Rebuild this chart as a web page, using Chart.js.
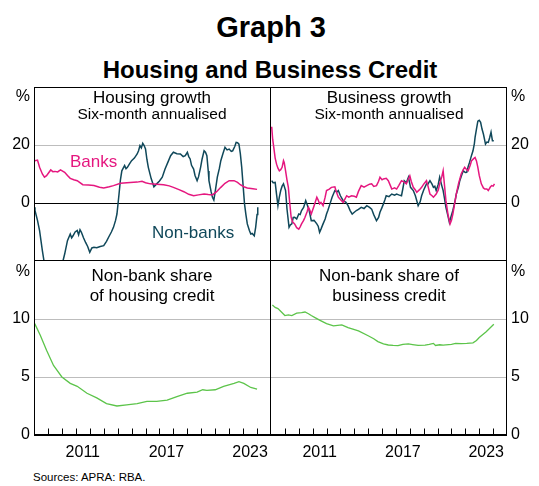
<!DOCTYPE html>
<html>
<head>
<meta charset="utf-8">
<script src="https://cdn.jsdelivr.net/npm/chart.js@4.4.1/dist/chart.umd.min.js"></script>
<style>
    body { margin: 0; background: #fff; }
    #wrap { position: relative; width: 539px; height: 486px; overflow: hidden; font-family: "Liberation Sans", Arial, sans-serif; color: #000; }
    #wrap canvas { position: absolute; }
    .txt { position: absolute; line-height: 1; white-space: nowrap; }
    .c { transform: translateX(-50%); }
    .r { transform: translateX(-100%); }
</style>
</head>
<body>
<div id="wrap">
    <div class="txt c" style="left:271px;top:13px;font-size:29px;font-weight:bold;">Graph 3</div>
    <div class="txt c" style="left:270px;top:58px;font-size:24px;font-weight:bold;">Housing and Business Credit</div>

    <canvas id="housingGrowth" width="271" height="174" style="left:0;top:87px;"></canvas>
    <canvas id="businessGrowth" width="268" height="174" style="left:271px;top:87px;"></canvas>
    <canvas id="housingShare" width="271" height="204" style="left:0;top:261px;"></canvas>
    <canvas id="businessShare" width="268" height="204" style="left:271px;top:261px;"></canvas>

    <div class="txt c" style="left:152px;top:89px;font-size:17px;">Housing growth</div>
    <div class="txt c" style="left:152px;top:106px;font-size:15.5px;">Six-month annualised</div>
    <div class="txt c" style="left:389px;top:89px;font-size:17px;">Business growth</div>
    <div class="txt c" style="left:389px;top:106px;font-size:15.5px;">Six-month annualised</div>
    <div class="txt c" style="left:152px;top:267px;font-size:17px;">Non-bank share</div>
    <div class="txt c" style="left:152px;top:287px;font-size:17px;">of housing credit</div>
    <div class="txt c" style="left:389px;top:267px;font-size:17px;">Non-bank share of</div>
    <div class="txt c" style="left:389px;top:287px;font-size:17px;">business credit</div>

    <div class="txt" style="left:70px;top:153px;font-size:17px;color:#e5177f;">Banks</div>
    <div class="txt" style="left:152px;top:224px;font-size:17px;color:#10485a;">Non-banks</div>

    <div class="txt r" style="left:30px;top:88px;font-size:16px;">%</div>
    <div class="txt r" style="left:30px;top:263px;font-size:16px;">%</div>
    <div class="txt" style="left:511px;top:88px;font-size:16px;">%</div>
    <div class="txt" style="left:511px;top:263px;font-size:16px;">%</div>

    <div class="txt" style="left:33px;top:472px;font-size:11.5px;">Sources: APRA: RBA.</div>
</div>

<script>
// Six-month annualised growth, % (year, value)
const housingBanks = [
    [2008.07, 14.6], [2008.25, 14.8], [2008.4, 12.3], [2008.6, 10.0], [2008.75, 8.9], [2008.9, 9.4],
    [2009.2, 11.4], [2009.35, 10.8], [2009.5, 10.9], [2009.7, 10.7], [2009.9, 11.4], [2010.2, 10.6],
    [2010.4, 9.5], [2010.6, 8.5], [2010.85, 8.0], [2011.1, 7.7], [2011.5, 6.3], [2011.9, 6.2],
    [2012.3, 6.0], [2012.7, 5.4], [2013.0, 5.2], [2013.4, 5.6], [2013.7, 6.0], [2014.2, 6.8],
    [2014.9, 7.1], [2015.4, 7.2], [2015.75, 7.5], [2016.0, 7.0], [2016.35, 6.6], [2016.8, 6.5],
    [2017.3, 6.3], [2017.7, 5.9], [2018.0, 5.4], [2018.4, 4.6], [2018.75, 3.9], [2019.1, 3.0],
    [2019.45, 2.5], [2019.8, 2.8], [2020.2, 3.1], [2020.5, 2.9], [2020.8, 2.8], [2021.1, 3.9],
    [2021.4, 5.4], [2021.7, 6.8], [2022.0, 7.7], [2022.35, 7.7], [2022.6, 7.1], [2022.8, 6.3],
    [2023.05, 5.6], [2023.3, 5.2], [2023.7, 4.9], [2024.0, 4.7]
];

const housingNonBanks = [
    [2008.0, -1.5], [2008.07, -2.6], [2008.25, -6], [2008.4, -9.5], [2008.6, -16.4], [2008.75, -21],
    [2008.9, -23], [2009.1, -24], [2009.4, -23], [2009.7, -22.5], [2010.0, -21.5], [2010.2, -17.6],
    [2010.4, -13], [2010.6, -10.7], [2010.7, -12], [2010.8, -11.3], [2010.95, -10], [2011.1, -9.5],
    [2011.2, -11], [2011.3, -9.2], [2011.4, -10.1], [2011.55, -12], [2011.7, -13.6], [2011.85, -15],
    [2012.0, -17], [2012.15, -15.5], [2012.3, -15.3], [2012.5, -15.4], [2012.75, -15], [2013.0, -14.7],
    [2013.2, -13.2], [2013.35, -11.8], [2013.55, -10], [2013.7, -8.4], [2013.85, -6], [2013.95, -3.8],
    [2014.1, 3.1], [2014.2, 8], [2014.3, 11.1], [2014.4, 12], [2014.5, 12.9], [2014.6, 11.8],
    [2014.7, 12.3], [2014.85, 13.5], [2015.0, 14.6], [2015.2, 15.5], [2015.4, 16.9], [2015.5, 18],
    [2015.6, 19.8], [2015.7, 19], [2015.8, 20.6], [2015.9, 19.8], [2016.0, 18.6], [2016.1, 15],
    [2016.2, 12.3], [2016.4, 8.5], [2016.6, 5.6], [2016.8, 6.6], [2017.0, 7.6], [2017.2, 8.9],
    [2017.4, 11.7], [2017.6, 14], [2017.8, 16.3], [2018.0, 17.5], [2018.25, 17.0], [2018.5, 16.9],
    [2018.7, 16.0], [2018.85, 16.3], [2019.0, 17.5], [2019.1, 16.0], [2019.2, 15.2], [2019.3, 13],
    [2019.45, 11.7], [2019.55, 9.5], [2019.7, 7.7], [2019.8, 9], [2019.95, 12.3], [2020.05, 15],
    [2020.2, 18.0], [2020.3, 17.5], [2020.4, 16.3], [2020.5, 11], [2020.55, 7.7], [2020.7, 4],
    [2020.8, 2.0], [2020.9, 1.0], [2021.0, 4], [2021.15, 8.9], [2021.3, 12], [2021.4, 14.6],
    [2021.55, 17], [2021.7, 19.2], [2021.85, 18.3], [2022.0, 18.6], [2022.15, 17.8], [2022.25, 18.0],
    [2022.4, 19.5], [2022.5, 20.9], [2022.6, 20.8], [2022.7, 20.3], [2022.8, 17], [2022.9, 12.3],
    [2023.0, 6], [2023.1, -0.3], [2023.2, -4], [2023.3, -7.2], [2023.45, -9.5], [2023.55, -10.7],
    [2023.65, -10.5], [2023.8, -11.3], [2023.9, -8.4], [2024.0, -4], [2024.05, -1.5]
];

const businessBanks = [
    [2008.05, 26.3], [2008.12, 22], [2008.2, 19.2], [2008.3, 15.5], [2008.4, 13.4], [2008.5, 12],
    [2008.6, 11.1], [2008.7, 11.5], [2008.8, 12.3], [2008.9, 14.6], [2008.95, 14], [2009.05, 11.1],
    [2009.15, 8], [2009.25, 5.4], [2009.35, 0], [2009.45, -4.9], [2009.55, -6.5], [2009.7, -7.2],
    [2009.85, -8.5], [2010.0, -9.0], [2010.1, -8.2], [2010.2, -7.2], [2010.35, -6], [2010.45, -4.9],
    [2010.6, -3], [2010.7, -1.5], [2010.8, -2.5], [2010.9, -3.8], [2011.1, -1], [2011.3, 2.0],
    [2011.4, 1], [2011.5, -0.3], [2011.6, 0.2], [2011.75, -0.9], [2011.9, 2], [2012.0, 4.3],
    [2012.2, 4.8], [2012.35, 5.4], [2012.6, 5.6], [2012.7, 4], [2012.85, 2.0], [2013.0, 1.2],
    [2013.2, 0.2], [2013.45, 2.5], [2013.6, 2.0], [2013.8, 2.5], [2014.0, 2.3], [2014.15, 2.0],
    [2014.3, 4], [2014.5, 6.0], [2014.7, 5.5], [2014.9, 6.0], [2015.1, 6.5], [2015.25, 6.6],
    [2015.4, 5.7], [2015.6, 6.0], [2015.75, 7.5], [2015.85, 8.9], [2016.0, 8.0], [2016.1, 8.3],
    [2016.3, 8.5], [2016.45, 7.7], [2016.6, 6], [2016.7, 4.8], [2016.9, 5.2], [2017.05, 4.8],
    [2017.2, 6], [2017.4, 7.7], [2017.6, 7.2], [2017.75, 6.6], [2017.9, 8.3], [2018.0, 9.4],
    [2018.1, 7.5], [2018.25, 5.4], [2018.4, 4.5], [2018.5, 3.7], [2018.7, 4.6], [2018.85, 5.4],
    [2019.0, 6.5], [2019.2, 7.7], [2019.3, 6], [2019.45, 3.1], [2019.6, 2.5], [2019.7, 2.0],
    [2019.9, 3.1], [2020.05, 4.5], [2020.15, 6.6], [2020.3, 9], [2020.4, 11.1], [2020.5, 6],
    [2020.6, 0.8], [2020.75, -4], [2020.9, -7.2], [2021.0, -6], [2021.1, -3.8], [2021.2, -1],
    [2021.35, 3.1], [2021.5, 6.5], [2021.7, 10.0], [2021.85, 11.5], [2021.95, 12.3], [2022.1, 11.5],
    [2022.2, 11.1], [2022.35, 13], [2022.45, 14.6], [2022.6, 15.3], [2022.7, 15.7], [2022.8, 14.5],
    [2022.9, 12.3], [2023.0, 9.5], [2023.15, 6.6], [2023.3, 5.2], [2023.4, 4.8], [2023.55, 4.8],
    [2023.65, 4.3], [2023.8, 5.5], [2023.9, 6.0], [2024.0, 5.8], [2024.1, 6.6]
];

const businessNonBanks = [
    [2008.05, 7.7], [2008.15, 7.0], [2008.3, 7.1], [2008.4, 3], [2008.5, -0.9], [2008.6, 2],
    [2008.7, 4.3], [2008.8, 5.8], [2008.9, 6.6], [2009.05, 4.3], [2009.15, -2], [2009.3, -8.4],
    [2009.4, -7.5], [2009.5, -7.2], [2009.6, -5], [2009.7, -4.9], [2009.85, -5.5], [2010.0, -3.8],
    [2010.1, -4], [2010.2, -2.6], [2010.35, -1.5], [2010.5, 0.8], [2010.6, -0.5], [2010.75, -2.6],
    [2010.9, -6.1], [2011.1, -6], [2011.3, -7.2], [2011.4, -8], [2011.5, -10.1], [2011.6, -9],
    [2011.75, -7.2], [2011.9, -5.5], [2012.0, -3.8], [2012.1, -2.5], [2012.25, -0.3], [2012.4, 2],
    [2012.6, 4.3], [2012.75, 3.8], [2012.85, 4.3], [2013.0, 2.5], [2013.2, 0.8], [2013.4, 0.2],
    [2013.55, -0.9], [2013.7, -2.6], [2013.85, -3.8], [2014.0, -3.2], [2014.15, -2.6], [2014.3, -2.2],
    [2014.5, -1.5], [2014.7, -1.9], [2014.9, -0.9], [2015.1, -1.5], [2015.25, -2.1], [2015.4, -4],
    [2015.6, -6.1], [2015.75, -5], [2015.85, -3.2], [2016.0, -1.5], [2016.1, -0.3], [2016.2, 1],
    [2016.3, 2.5], [2016.5, 2.2], [2016.7, 3.1], [2016.9, 2.7], [2017.05, 3.1], [2017.2, 2.8],
    [2017.4, 2.5], [2017.5, 5], [2017.6, 7.7], [2017.75, 7.0], [2017.9, 8.9], [2018.05, 5.4],
    [2018.25, 4.3], [2018.4, 2.5], [2018.6, -0.9], [2018.75, 0.5], [2018.85, 2.5], [2019.0, 4.5],
    [2019.2, 6.6], [2019.3, 6.5], [2019.45, 7.7], [2019.6, 6.5], [2019.7, 5.4], [2019.8, 5.8],
    [2019.9, 4.3], [2020.05, 6.5], [2020.15, 8.9], [2020.3, 6], [2020.4, 4.3], [2020.5, 1.5],
    [2020.6, -1.5], [2020.75, -4.5], [2020.85, -6.7], [2020.95, -5], [2021.1, -2.6], [2021.25, 0.5],
    [2021.35, 3.1], [2021.5, 5.5], [2021.6, 7.7], [2021.75, 9.8], [2021.85, 11.1], [2022.0, 10.5],
    [2022.1, 10.6], [2022.2, 12.5], [2022.3, 14.0], [2022.45, 16.5], [2022.55, 18.0], [2022.65, 20.5],
    [2022.7, 22.6], [2022.8, 25.5], [2022.9, 28.2], [2023.0, 28.5], [2023.1, 27.8], [2023.2, 25.5],
    [2023.3, 23.8], [2023.4, 21.5], [2023.45, 20.3], [2023.55, 21], [2023.65, 20.9], [2023.75, 22.5],
    [2023.85, 24.4], [2023.95, 21.5], [2024.05, 21.5]
];

// Non-bank share of credit, %
const housingShare = [
    [2008.05, 9.6], [2008.45, 8.6], [2008.9, 7.3], [2009.4, 6.0], [2010.0, 5.0], [2010.6, 4.45],
    [2011.1, 4.2], [2011.8, 3.6], [2012.5, 3.2], [2013.2, 2.7], [2013.95, 2.5], [2014.65, 2.6],
    [2015.4, 2.7], [2016.1, 2.9], [2016.8, 2.9], [2017.55, 3.0], [2018.25, 3.3], [2019.0, 3.6],
    [2019.7, 3.7], [2020.1, 3.9], [2020.4, 3.85], [2021.0, 3.9], [2021.6, 4.2], [2022.35, 4.45],
    [2022.7, 4.6], [2023.05, 4.45], [2023.55, 4.1], [2024.0, 3.95]
];

const businessShare = [
    [2008.1, 11.2], [2008.3, 11.0], [2008.5, 10.9], [2008.75, 10.6], [2009.0, 10.3], [2009.25, 10.35],
    [2009.5, 10.3], [2009.85, 10.5], [2010.2, 10.55], [2010.45, 10.6], [2010.7, 10.45], [2010.9, 10.3],
    [2011.2, 10.1], [2011.5, 9.9], [2011.75, 9.75], [2012.0, 9.6], [2012.5, 9.4], [2013.1, 9.5],
    [2013.55, 9.25], [2014.3, 8.97], [2015.0, 8.56], [2015.4, 8.3], [2015.7, 8.05], [2016.1, 7.85],
    [2016.45, 7.76], [2016.8, 7.72], [2017.15, 7.7], [2017.5, 7.82], [2017.9, 7.85], [2018.2, 7.8],
    [2018.6, 7.72], [2019.1, 7.75], [2019.4, 7.82], [2019.7, 7.9], [2019.85, 7.72], [2020.15, 7.78],
    [2020.4, 7.75], [2021.0, 7.82], [2021.3, 7.9], [2021.7, 7.87], [2022.1, 7.9], [2022.55, 7.95],
    [2022.8, 8.15], [2023.0, 8.4], [2023.5, 8.9], [2024.05, 9.55]
];

const yearLabels = [2011, 2017, 2023];
const growthTicks = [0, 20];
const shareTicks = [0, 5, 10];

const PINK = '#e5177f';
const TEAL = '#10485a';
const GREEN = '#5cc44a';
const FONT = '"Liberation Sans", Arial, sans-serif';

const X_MIN = 2008;
const X_MAX = 2025;

/**
 * Panel frame and inner year tick marks
 */
const framePlugin = {
    id: 'frame',
    afterDraw(chart, args, opts) {
        const { ctx, chartArea: a } = chart;
        const l = Math.round(a.left) + 0.5;
        const r = Math.round(a.right) - 0.5;
        const t = Math.round(a.top) + 0.5;
        const b = Math.round(a.bottom) - 0.5;
        ctx.save();
        ctx.strokeStyle = '#000';
        ctx.lineWidth = 1;
        ctx.beginPath();
        if (opts.top) { ctx.moveTo(l - 0.5, t); ctx.lineTo(r + 0.5, t); }
        if (opts.bottom) { ctx.moveTo(l - 0.5, b); ctx.lineTo(r + 0.5, b); }
        if (opts.left) { ctx.moveTo(l, t - 0.5); ctx.lineTo(l, b + 0.5); }
        if (opts.right) { ctx.moveTo(r, t - 0.5); ctx.lineTo(r, b + 0.5); }
        if (opts.yearTicks) {
            const xs = chart.scales.x;
            for (let y = X_MIN + 1; y < X_MAX; y++) {
                const px = Math.round(xs.getPixelForValue(y)) + 0.5;
                ctx.moveTo(px, b);
                ctx.lineTo(px, b - 6);
            }
        }
        ctx.stroke();
        ctx.restore();
    }
};

function toPoints(pairs) {
    return pairs.map(p => ({ x: p[0], y: p[1] }));
}

function yAxis(position, min, max, ticks) {
    return {
        position: position,
        min: min,
        max: max,
        afterBuildTicks: s => { s.ticks = ticks.map(v => ({ value: v })); },
        afterFit: s => {
            s.width = position === 'left' ? 34 : 32;
            s.paddingTop = 0;
            s.paddingBottom = 0;
        },
        grid: {
            color: c => (c.tick && c.tick.value === 0) ? '#000' : '#bdbdbd',
            lineWidth: 1,
            drawTicks: false
        },
        border: { display: false },
        ticks: { color: '#000', font: { size: 16, family: FONT }, padding: 4 }
    };
}

function xAxis(show) {
    return {
        type: 'linear',
        min: X_MIN,
        max: X_MAX,
        display: show,
        afterBuildTicks: s => { s.ticks = yearLabels.map(v => ({ value: v + 0.5 })); },
        afterFit: s => {
            s.height = show ? 30 : 0;
            s.paddingLeft = 0;
            s.paddingRight = 0;
        },
        grid: { display: false, drawTicks: false },
        border: { display: false },
        ticks: {
            color: '#000',
            font: { size: 16, family: FONT },
            padding: 8,
            maxRotation: 0,
            autoSkip: false,
            callback: v => String(Math.floor(v))
        }
    };
}

function line(data, color, width) {
    return {
        data: toPoints(data),
        borderColor: color,
        borderWidth: width,
        pointRadius: 0,
        tension: 0,
        fill: false
    };
}

/**
 * Build one panel
 */
function makePanel(canvasId, datasets, side, yMin, yMax, yTicks, bottomRow) {
    const ctx = document.getElementById(canvasId).getContext('2d');
    return new Chart(ctx, {
        type: 'line',
        data: { datasets: datasets },
        options: {
            responsive: false,
            animation: false,
            layout: { padding: 0 },
            scales: {
                x: xAxis(bottomRow),
                y: yAxis(side, yMin, yMax, yTicks)
            },
            plugins: {
                legend: { display: false },
                tooltip: { enabled: false },
                frame: {
                    top: !bottomRow,
                    bottom: true,
                    left: side === 'left',
                    right: true,
                    yearTicks: bottomRow
                }
            }
        },
        plugins: [framePlugin]
    });
}

makePanel('housingGrowth', [
    line(housingBanks, PINK, 1.5),
    line(housingNonBanks, TEAL, 1.5)
], 'left', -20, 40, growthTicks, false);

makePanel('businessGrowth', [
    line(businessBanks, PINK, 1.5),
    line(businessNonBanks, TEAL, 1.5)
], 'right', -20, 40, growthTicks, false);

makePanel('housingShare', [
    line(housingShare, GREEN, 1.3)
], 'left', 0, 15, shareTicks, true);

makePanel('businessShare', [
    line(businessShare, GREEN, 1.3)
], 'right', 0, 15, shareTicks, true);
</script>
</body>
</html>
